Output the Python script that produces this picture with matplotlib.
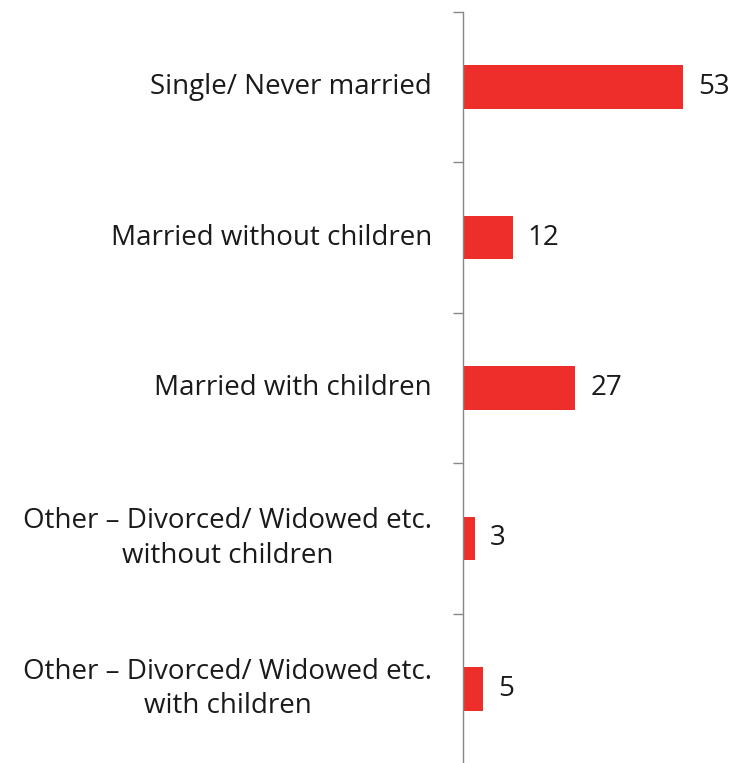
import matplotlib.pyplot as plt
import numpy as np

categories = [
    "Single/ Never married",
    "Married without children",
    "Married with children",
    "Other \u2013 Divorced/ Widowed etc.\nwithout children",
    "Other \u2013 Divorced/ Widowed etc.\nwith children",
]
values = [53, 12, 27, 3, 5]

BAR_COLOR = "#EE2E2A"

plt.rcParams["font.family"] = ["Open Sans", "DejaVu Sans"]

W, H = 733, 763
fig = plt.figure(figsize=(W / 100, H / 100), dpi=100)
ax_left = 462.5 / W
ax_top = 12 / H
ax_bottom = 764 / H
ax = fig.add_axes([ax_left, 1 - ax_bottom, 250 / W, ax_bottom - ax_top])

n = len(categories)
pos = np.arange(n)
ax.barh(pos, values, height=0.29, color=BAR_COLOR, zorder=2)
ax.set_ylim(n - 0.5, -0.5)
ax.set_xlim(0, 60)

for y, v in zip(pos, values):
    ax.annotate(str(v), (v, y), xytext=(11, 0), textcoords="offset points",
                ha="left", va="center", fontsize=20, color="#1a1a1a")

for y, label in zip(pos, categories):
    ax.annotate(label, (0, y), xytext=(-22, 0), textcoords="offset points",
                ha="right", va="center", multialignment="center",
                fontsize=20, color="#1a1a1a", linespacing=1.3)

# category boundaries carry the ticks, labels are drawn separately
ax.set_yticks(np.arange(n + 1) - 0.5)
ax.set_yticklabels([])
ax.tick_params(axis="y", length=7, width=1, color="#888888", direction="out")
ax.set_xticks([])
for side in ("top", "right", "bottom"):
    ax.spines[side].set_visible(False)
ax.spines["left"].set_color("#888888")
ax.spines["left"].set_linewidth(1)

fig.savefig("out.png", dpi=100)
